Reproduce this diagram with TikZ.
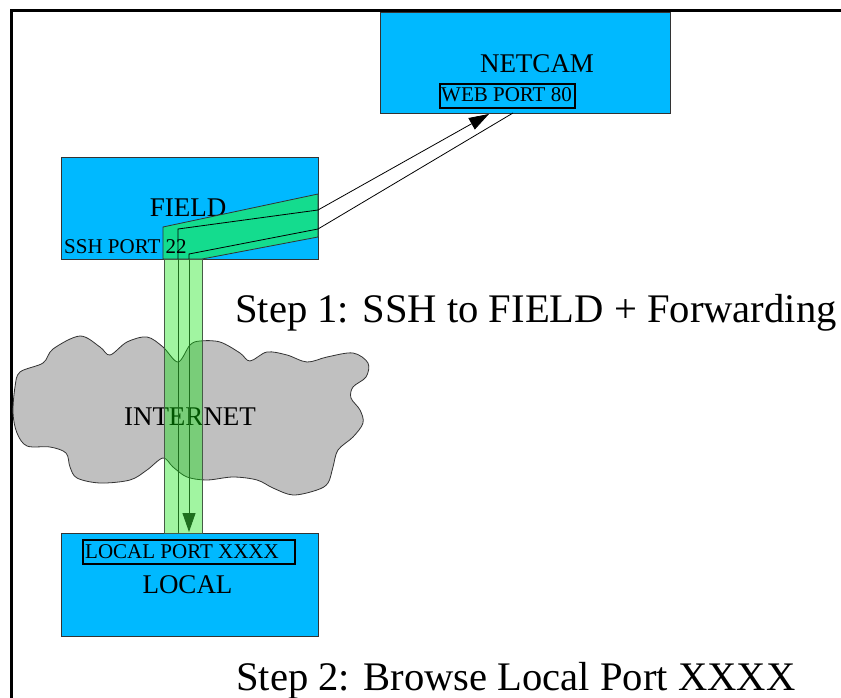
\documentclass[tikz,border=0pt]{standalone}
\usepackage{fontspec}
\setmainfont{Liberation Serif}
\usetikzlibrary{arrows.meta}

\definecolor{boxcyan}{RGB}{0,185,255}
\definecolor{bandmint}{RGB}{20,220,142}
\definecolor{tubegreen}{RGB}{0,228,0}
\definecolor{cloudgray}{RGB}{192,192,192}
\definecolor{flowgreen}{RGB}{30,110,30}
\definecolor{tubeedge}{RGB}{70,90,70}

\begin{document}
\begin{tikzpicture}[x=1pt,y=-1pt,
  hostbox/.style={draw=black!80, line width=0.9pt, fill=boxcyan, inner sep=0pt, anchor=north west},
  bigtext/.style={font=\fontsize{27}{27}\selectfont, inner sep=0pt},
  porttext/.style={font=\fontsize{21}{21}\selectfont, inner sep=0pt},
  portframe/.style={draw=black, line width=2pt, inner sep=0pt, anchor=north west},
  steptext/.style={inner sep=0pt, anchor=base west, font=\fontsize{40.6}{40.6}\selectfont},
  flow/.style={draw=black, line width=0.8pt},
  tubeflow/.style={draw=flowgreen, line width=1pt}]
\useasboundingbox (0,0) rectangle (841,698);

% outer frame
\draw[line width=3pt] (841,11) -- (11,11) -- (11,698);

% hosts
\node[hostbox, minimum width=290, minimum height=101] (netcam) at (380,12) {};
\node[hostbox, minimum width=257, minimum height=102] (field) at (61,157) {};
\node[hostbox, minimum width=257, minimum height=103] (local) at (61,533) {};

\node[bigtext] (netcamlabel) at (537,63.5) {NETCAM};
\node[portframe, minimum width=135, minimum height=24] (webframe) at (439,83) {};
\node[porttext] (webport) at (506.5,95) {WEB PORT 80};

\node[bigtext] (fieldlabel) at (188,207.5) {FIELD};

\node[portframe, minimum width=212, minimum height=24] (localframe) at (82,539) {};
\node[porttext] (localport) at (182,551.5) {LOCAL PORT XXXX};
\node[bigtext] (locallabel) at (187.5,584.5) {LOCAL};

% the internet cloud
\draw[fill=cloudgray, draw=black!80, line width=0.8pt]
  plot[smooth cycle, tension=0.55] coordinates {
    (15,387) (20,372) (43,363) (53,349) (80,336) (100,347) (110,355)
    (127,342) (147,337) (163,347) (178,362) (190,345) (200,341)
    (220,342) (240,353) (250,361) (267,352) (287,355) (307,362)
    (327,357) (353,353) (368,363) (366,377) (353,387) (351,398)
    (360,410) (363,423) (353,437) (338,450) (333,467) (328,483)
    (317,490) (293,495) (273,488) (257,480) (233,477) (207,480)
    (187,477) (173,467) (163,458) (147,470) (130,480) (100,483)
    (77,478) (70,467) (66,453) (50,447) (27,446) (17,433) (13,413)};
\node[bigtext] (internet) at (190,416.5) {INTERNET};

% forwarding band inside FIELD
\filldraw[fill=bandmint, draw=black!80, line width=0.8pt]
  (163,259) -- (163,227) -- (318,194) -- (318,237) -- (202,259) -- cycle;
\node[porttext, anchor=west] (sshport) at (64,247) {SSH PORT 22};

% tunnel through the internet
\draw[fill=tubegreen, fill opacity=0.37, draw=tubeedge, line width=1pt]
  (164,259) rectangle (202,533);

% flow coordinates
\coordinate (aLow) at (178,533);
\coordinate (aField) at (178,259);
\coordinate (aBend) at (178,229);
\coordinate (aExit) at (318,210);
\coordinate (aTip) at (489,114);
\coordinate (bTop) at (513,113);
\coordinate (bExit) at (318,229);
\coordinate (bBend) at (189,254);
\coordinate (bField) at (189,259);
\coordinate (bLow) at (189,532);

% request path: LOCAL -> FIELD -> NETCAM
\draw[tubeflow] (aLow) -- (aField);
\draw[flow] (aField) -- (aBend) -- (aExit);
\draw[flow, -{Triangle[length=20pt,width=13pt]}] (aExit) -- (aTip);

% reply path: NETCAM -> FIELD -> LOCAL
\draw[flow] (bTop) -- (bExit) -- (bBend) -- (bField);
\draw[tubeflow, -{Triangle[length=19pt,width=13pt]}] (bField) -- (bLow);

% captions
\node[steptext] (step1) at (235,322) {Step 1: SSH to FIELD + Forwarding};
\node[steptext] (step2) at (236,690) {Step 2: Browse Local Port XXXX};
\end{tikzpicture}
\end{document}
